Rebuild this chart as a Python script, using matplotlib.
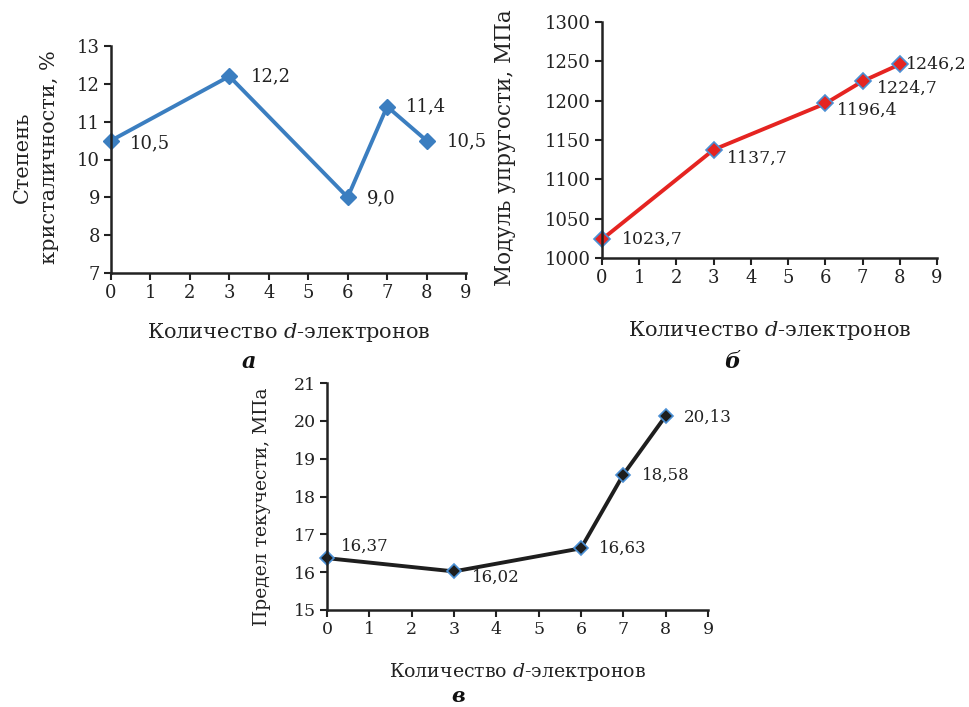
import matplotlib
matplotlib.use("Agg")
import matplotlib.pyplot as plt

plt.rcParams['font.family'] = ['DejaVu Serif']
plt.rcParams['mathtext.fontset'] = 'custom'
plt.rcParams['mathtext.rm'] = 'DejaVu Serif'
plt.rcParams['mathtext.it'] = 'DejaVu Serif:italic'

x_vals = [0, 3, 6, 7, 8]
cryst = [10.5, 12.2, 9.0, 11.4, 10.5]
cryst_labels = ["10,5", "12,2", "9,0", "11,4", "10,5"]
modulus = [1023.7, 1137.7, 1196.4, 1224.7, 1246.2]
modulus_labels = ["1023,7", "1137,7", "1196,4", "1224,7", "1246,2"]
yield_s = [16.37, 16.02, 16.63, 18.58, 20.13]
yield_labels = ["16,37", "16,02", "16,63", "18,58", "20,13"]
xticks = list(range(0, 10))

xlabel = "Количество $\\mathit{d}$-электронов"

fig = plt.figure(figsize=(9.69, 7.07), dpi=100)
W, H = 969, 707

def mkax(l, r, t, b):
    return fig.add_axes([l / W, 1 - b / H, (r - l) / W, (b - t) / H])

def style(ax, ylim, yticks, ls=13):
    ax.set_xlim(0, 9)
    ax.set_ylim(*ylim)
    ax.set_xticks(xticks)
    ax.set_yticks(yticks)
    for s in ['top', 'right']:
        ax.spines[s].set_visible(False)
    for s in ['left', 'bottom']:
        ax.spines[s].set_linewidth(1.8)
        ax.spines[s].set_color('#222222')
    ax.tick_params(direction='out', length=5, width=1.5, color='#222222',
                   labelsize=ls, labelcolor='#222222', pad=3)
    for lab in ax.get_xticklabels() + ax.get_yticklabels():
        lab.set_clip_on(False)

# Panel a
ax1 = mkax(111, 466, 46, 273)
style(ax1, (7, 13), range(7, 14))
ax1.plot(x_vals, cryst, color='#3B7EC0', lw=2.8, marker='D', ms=8,
         mfc='#3B7EC0', mec='#3B7EC0', clip_on=False)
offs1 = [(19, -3), (21, 0), (19, -1), (19, 0), (20, -1)]
for x, y, t, o in zip(x_vals, cryst, cryst_labels, offs1):
    ax1.annotate(t, (x, y), xytext=o, textcoords='offset pixels',
                 ha='left', va='center', fontsize=13, color='#222222',
                 annotation_clip=False)
fig.text(22 / W, 1 - 157 / H, "Степень", rotation=90, ha='center', va='center',
         fontsize=15, color='#222222')
fig.text(50 / W, 1 - 157 / H, "кристаличности, %", rotation=90, ha='center',
         va='center', fontsize=15, color='#222222')
fig.text(289 / W, 1 - 333 / H, xlabel, ha='center', va='center', fontsize=15,
         color='#222222')
fig.text(249 / W, 1 - 362 / H, "а", ha='center', va='center', fontsize=16,
         fontweight='bold', fontstyle='italic', color='#111111')

# Panel b
ax2 = mkax(602, 937, 22, 258)
style(ax2, (1000, 1300), range(1000, 1301, 50))
ax2.plot(x_vals, modulus, color='#E52421', lw=2.8, marker='D', ms=8,
         mfc='#E52421', mec='#4A8FD4', mew=1.2, clip_on=False)
offs2 = [(20, 0), (13, -9), (12, -7), (14, -7), (6, 0)]
for x, y, t, o in zip(x_vals, modulus, modulus_labels, offs2):
    ax2.annotate(t, (x, y), xytext=o, textcoords='offset pixels',
                 ha='left', va='center', fontsize=12.5, color='#222222',
                 annotation_clip=False)
fig.text(505 / W, 1 - 148 / H, "Модуль упругости, МПа", rotation=90,
         ha='center', va='center', fontsize=15.5, color='#222222')
fig.text(770 / W, 1 - 330 / H, xlabel, ha='center', va='center', fontsize=15,
         color='#222222')
fig.text(732 / W, 1 - 362 / H, "б", ha='center', va='center', fontsize=16,
         fontweight='bold', fontstyle='italic', color='#111111')

# Panel c
ax3 = mkax(327, 708, 383, 610)
style(ax3, (15, 21), range(15, 22), ls=12.5)
ax3.plot(x_vals, yield_s, color='#1E1E1E', lw=2.8, marker='D', ms=7,
         mfc='#1E1E1E', mec='#4A8FD4', mew=1.2, clip_on=False)
offs3 = [(14, 12), (18, -6), (18, 0), (19, -1), (18, -1)]
for x, y, t, o in zip(x_vals, yield_s, yield_labels, offs3):
    ax3.annotate(t, (x, y), xytext=o, textcoords='offset pixels',
                 ha='left', va='center', fontsize=12, color='#222222',
                 annotation_clip=False)
fig.text(262 / W, 1 - 507 / H, "Предел текучести, МПа", rotation=90,
         ha='center', va='center', fontsize=13.5, color='#222222')
fig.text(517 / W, 1 - 672 / H, xlabel, ha='center', va='center', fontsize=13.6,
         color='#222222')
fig.text(458 / W, 1 - 696 / H, "в", ha='center', va='center', fontsize=15,
         fontweight='bold', fontstyle='italic', color='#111111')

fig.savefig("out.png", dpi=100)
